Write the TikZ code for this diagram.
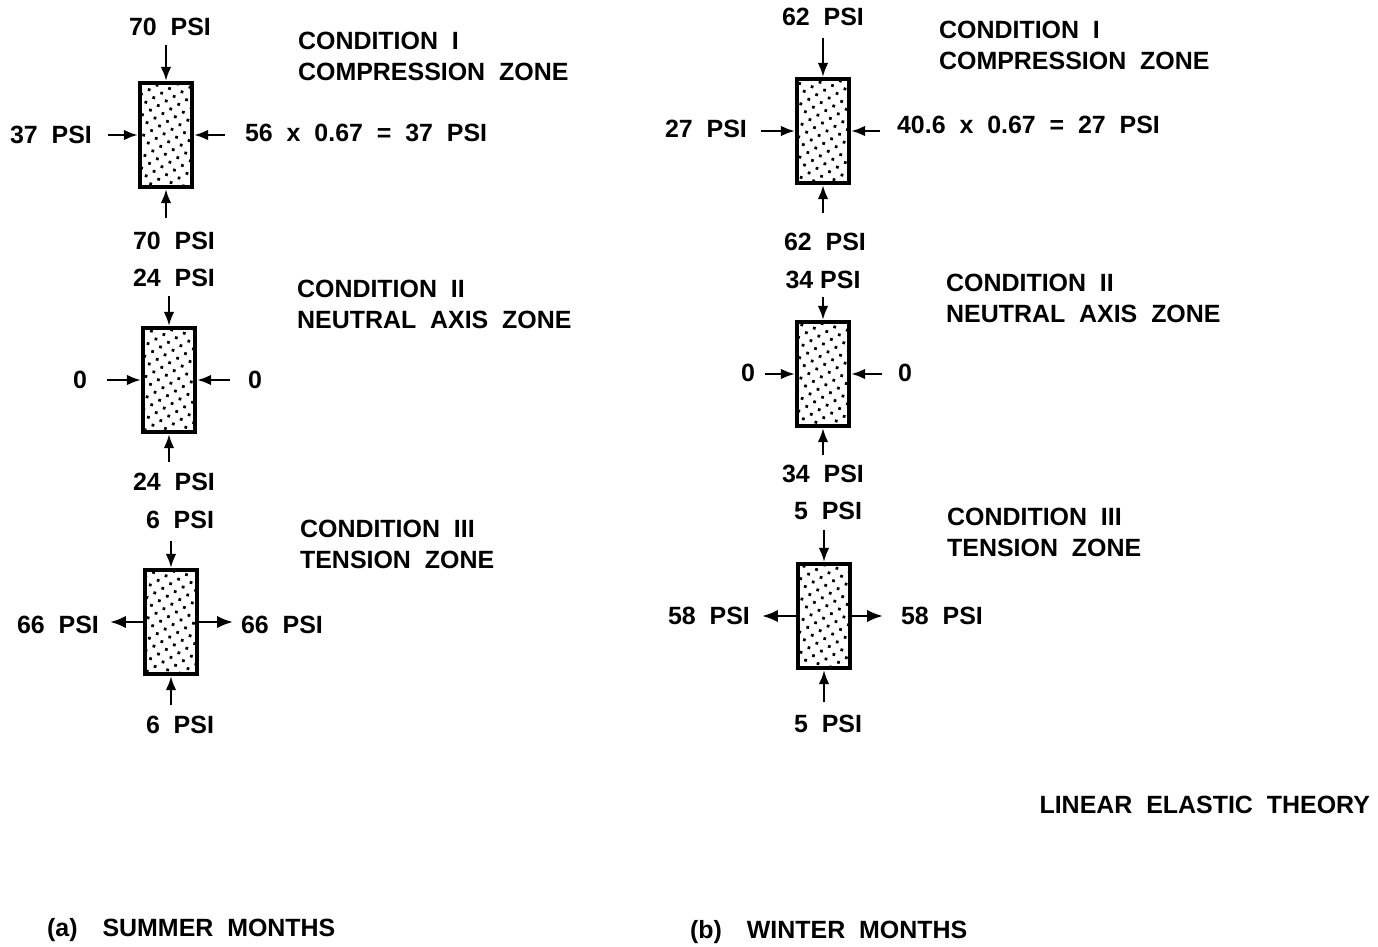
\documentclass[tikz,border=0pt]{standalone}
\usepackage{fontspec}
\setmainfont{Liberation Sans}
\usetikzlibrary{arrows.meta, positioning, patterns.meta}

\tikzset{
  elem/.style={draw, line width=2.3pt, minimum width=1.04cm, minimum height=2.08cm,
    inner sep=0pt, pattern={Dots[radius=1.1pt, distance=5.2pt, angle=30]}},
  load/.style={line width=1.4pt, -{Latex[length=8pt, width=6pt]}},
  pull/.style={line width=1.4pt, -{Latex[length=9pt, width=7pt]}},
  lbl/.style={inner sep=1pt},
  cond/.style={inner sep=1pt, anchor=north west, align=left},
}

\begin{document}
\begin{tikzpicture}[x=0.02cm, y=-0.02cm,
    every node/.style={font=\fontsize{14.2}{17.6}\selectfont\bfseries}]
  \useasboundingbox (0,0) rectangle (1378,946);

  % (a) Condition I
  \node[elem] (a1) at (166,135) {};
  \coordinate (a1n) at (166,45);
  \coordinate (a1s) at (166,218);
  \coordinate (a1w) at (108,135);
  \coordinate (a1e) at (225,135);
  \draw[load] (a1n) -- (a1.north);
  \draw[load] (a1s) -- (a1.south);
  \draw[load] (a1w) -- (a1.west);
  \draw[load] (a1e) -- (a1.east);
  \node[lbl] (a1top) at (170,27) {70 \ PSI};
  \node[lbl] (a1bot) at (174,241) {70 \ PSI};
  \node[lbl] (a1lft) at (51,135) {37 \ PSI};
  \node[lbl, anchor=west] (a1rgt) at (243,133) {56 \ x \ 0.67 \ = \ 37 \ PSI};
  \node[cond] (a1txt) at (296,30) {CONDITION \ I\\COMPRESSION \ ZONE};

  % (a) Condition II
  \node[elem] (a2) at (169,380) {};
  \coordinate (a2n) at (169,296);
  \coordinate (a2s) at (169,462);
  \coordinate (a2w) at (107,380);
  \coordinate (a2e) at (230,380);
  \draw[load] (a2n) -- (a2.north);
  \draw[load] (a2s) -- (a2.south);
  \draw[load] (a2w) -- (a2.west);
  \draw[load] (a2e) -- (a2.east);
  \node[lbl] (a2top) at (174,278) {24 \ PSI};
  \node[lbl] (a2bot) at (174,482) {24 \ PSI};
  \node[lbl] (a2lft) at (80,380) {0};
  \node[lbl] (a2rgt) at (255,380) {0};
  \node[cond] (a2txt) at (295,278) {CONDITION \ II\\NEUTRAL \ AXIS \ ZONE};

  % (a) Condition III
  \node[elem] (a3) at (171,622) {};
  \coordinate (a3n) at (171,541);
  \coordinate (a3s) at (171,705);
  \coordinate (a3w) at (110,622);
  \coordinate (a3e) at (233,622);
  \draw[load] (a3n) -- (a3.north);
  \draw[load] (a3s) -- (a3.south);
  \draw[pull] (a3.west) -- (a3w);
  \draw[pull] (a3.east) -- (a3e);
  \node[lbl] (a3top) at (180,520) {6 \ PSI};
  \node[lbl] (a3bot) at (180,725) {6 \ PSI};
  \node[lbl] (a3lft) at (58,625) {66 \ PSI};
  \node[lbl] (a3rgt) at (282,625) {66 \ PSI};
  \node[cond] (a3txt) at (298,518) {CONDITION \ III\\TENSION \ ZONE};

  % (b) Condition I
  \node[elem] (b1) at (823,131) {};
  \coordinate (b1n) at (823,38);
  \coordinate (b1s) at (823,213);
  \coordinate (b1w) at (761,131);
  \coordinate (b1e) at (880,131);
  \draw[load] (b1n) -- (b1.north);
  \draw[load] (b1s) -- (b1.south);
  \draw[load] (b1w) -- (b1.west);
  \draw[load] (b1e) -- (b1.east);
  \node[lbl] (b1top) at (823,17) {62 \ PSI};
  \node[lbl] (b1bot) at (825,242) {62 \ PSI};
  \node[lbl] (b1lft) at (706,129) {27 \ PSI};
  \node[lbl, anchor=west] (b1rgt) at (895,125) {40.6 \ x \ 0.67 \ = \ 27 \ PSI};
  \node[cond] (b1txt) at (937,19) {CONDITION \ I\\COMPRESSION \ ZONE};

  % (b) Condition II
  \node[elem] (b2) at (823,374) {};
  \coordinate (b2n) at (823,297);
  \coordinate (b2s) at (823,455);
  \coordinate (b2w) at (765,374);
  \coordinate (b2e) at (882,374);
  \draw[load] (b2n) -- (b2.north);
  \draw[load] (b2s) -- (b2.south);
  \draw[load] (b2w) -- (b2.west);
  \draw[load] (b2e) -- (b2.east);
  \node[lbl] (b2top) at (823,280) {34 PSI};
  \node[lbl] (b2bot) at (823,474) {34 \ PSI};
  \node[lbl] (b2lft) at (748,373) {0};
  \node[lbl] (b2rgt) at (905,373) {0};
  \node[cond] (b2txt) at (944,272) {CONDITION \ II\\NEUTRAL \ AXIS \ ZONE};

  % (b) Condition III
  \node[elem] (b3) at (824,616) {};
  \coordinate (b3n) at (824,530);
  \coordinate (b3s) at (824,702);
  \coordinate (b3w) at (762,616);
  \coordinate (b3e) at (883,616);
  \draw[load] (b3n) -- (b3.north);
  \draw[load] (b3s) -- (b3.south);
  \draw[pull] (b3.west) -- (b3w);
  \draw[pull] (b3.east) -- (b3e);
  \node[lbl] (b3top) at (828,511) {5 \ PSI};
  \node[lbl] (b3bot) at (828,724) {5 \ PSI};
  \node[lbl] (b3lft) at (709,616) {58 \ PSI};
  \node[lbl] (b3rgt) at (942,616) {58 \ PSI};
  \node[cond] (b3txt) at (945,506) {CONDITION \ III\\TENSION \ ZONE};

  % captions
  \node[lbl, anchor=east] (theory) at (1372,805) {LINEAR \ ELASTIC \ THEORY};
  \node[lbl, anchor=west] (capa) at (45,930) {(a)\quad SUMMER \ MONTHS};
  \node[lbl, anchor=west] (capb) at (688,932) {(b)\quad WINTER \ MONTHS};
\end{tikzpicture}
\end{document}
